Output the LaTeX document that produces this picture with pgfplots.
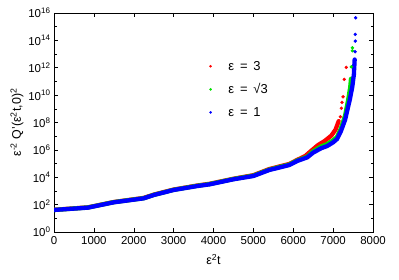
\documentclass[border=0pt]{standalone}
\usepackage{fontspec}
\setmainfont{Liberation Sans}
\usepackage{pgfplots}
\pgfplotsset{compat=1.18}
\definecolor{gpgreen}{RGB}{0,225,0}
\begin{document}
\begin{tikzpicture}
\begin{axis}[
  scale only axis, width=319bp, height=219bp,
  xmin=0, xmax=8000, ymin=1, ymax=1e16,
  ymode=log, log basis y=10,
  xtick={0,1000,2000,3000,4000,5000,6000,7000,8000},
  ytick={1,1e2,1e4,1e6,1e8,1e10,1e12,1e14,1e16},
  minor ytick={1e1,1e3,1e5,1e7,1e9,1e11,1e13,1e15},
  tick align=inside,
  major tick length=4bp, minor tick length=2.5bp,
  tick style={black, line width=0.5bp},
  axis line style={line width=0.8bp},
  /pgf/number format/.cd, 1000 sep={}, assume math mode=true, /pgfplots/.cd,
  tick label style={font=\fontsize{11.5}{13}\selectfont},
  xticklabel style={yshift=-1bp},
  yticklabel={10\textsuperscript{\pgfmathparse{int(round(\tick))}\pgfmathresult}},
  label style={font=\fontsize{12.5}{14}\selectfont},
  xlabel={ε\textsuperscript{2}t},
  xlabel style={yshift=-3bp},
  ylabel={ε\textsuperscript{-2} Q'(ε\textsuperscript{2}t,0)\textsuperscript{2}},
  ylabel style={yshift=-2bp},
  legend style={draw=none, fill=none, at={(0.467,0.8)}, anchor=north west,
    font=\fontsize{13}{15}\selectfont, row sep=8bp},
  legend cell align=left,
  legend image code/.code={\draw[#1] plot coordinates {(0.15cm,0cm)}; \path (0,0) (0.7cm,0);},
]
\addlegendimage{red, only marks, mark=*, mark size=1.1bp}
\addlegendentry{ε\hspace{0.45em}=\hspace{0.45em}3}
\addlegendimage{gpgreen, only marks, mark=*, mark size=1.1bp}
\addlegendentry{ε\hspace{0.45em}=\hspace{0.45em}√3}
\addlegendimage{blue, only marks, mark=*, mark size=1.1bp}
\addlegendentry{ε\hspace{0.45em}=\hspace{0.45em}1}
% red
\addplot[red, line width=4.3bp, line join=round, line cap=round, forget plot] coordinates {
(0,41.7)(850,63.1)(1500,154.9)(2250,309.0)(2500,537.0)(3000,1259)(3600,2512)(3900,3311)
(4500,7762)(5000,14125)(5400,39811)(5900,93325)(6100,186209)(6300,354813)(6450,8.5e5)
(6621,2.24e6)(6789,4.47e6)(6955,1.1e7)(7060,3.0e7)(7140,1.26e8)};
\addplot[red, only marks, mark=*, mark size=1.5bp, forget plot] coordinates {
(7180,2.63e8)(7205,1.10e9)(7223,2.95e9)(7248,7.59e9)(7280,1.41e11)(7330,1.07e12)};
% green
\addplot[gpgreen, line width=4.3bp, line join=round, line cap=round, forget plot] coordinates {
(0,40.7)(850,61.7)(1500,151.4)(2250,295.1)(2500,512.9)(3000,1202)(3600,2399)(3900,3162)
(4500,7413)(5000,13183)(5400,36308)(5900,85114)(6100,169824)(6350,316228)(6500,794328)
(6700,1.778e6)(6850,2.63e6)(7000,5.01e6)(7100,8.91e6)(7200,3.98e7)(7300,3.16e8)
(7380,5.01e9)(7430,3.98e10)(7448,1.58e11)};
\addplot[gpgreen, only marks, mark=*, mark size=1.5bp, forget plot] coordinates {
(7456,1.17e12)(7481,1.74e13)(7485,2.88e13)};
% blue
\addplot[blue, line width=4.3bp, line join=round, line cap=round, forget plot] coordinates {
(0,40.7)(850,60.3)(1500,147.9)(2250,288.4)(2500,501.2)(3000,1175)(3600,2291)(3900,3020)
(4500,7079)(5000,12303)(5400,33884)(5900,77625)(6100,154882)(6350,281838)(6500,630957)
(6700,1.318e6)(6850,1.905e6)(7000,3.548e6)(7100,6.31e6)(7200,2.51e7)(7300,1.58e8)
(7420,5.01e9)(7480,3.98e10)(7520,3.16e11)(7540,3.98e12)};
\addplot[blue, only marks, mark=*, mark size=1.5bp, forget plot] coordinates {
(7549,1.48e13)(7556,8.91e13)(7556,2.75e14)(7566,4.47e15)};
\coordinate (sw) at (rel axis cs:0,0);
\coordinate (ne) at (rel axis cs:1,1);
\end{axis}
\pgfresetboundingbox
\path ([xshift=-54bp,yshift=-47bp]sw) rectangle ([xshift=26bp,yshift=13bp]ne);
\end{tikzpicture}
\end{document}
